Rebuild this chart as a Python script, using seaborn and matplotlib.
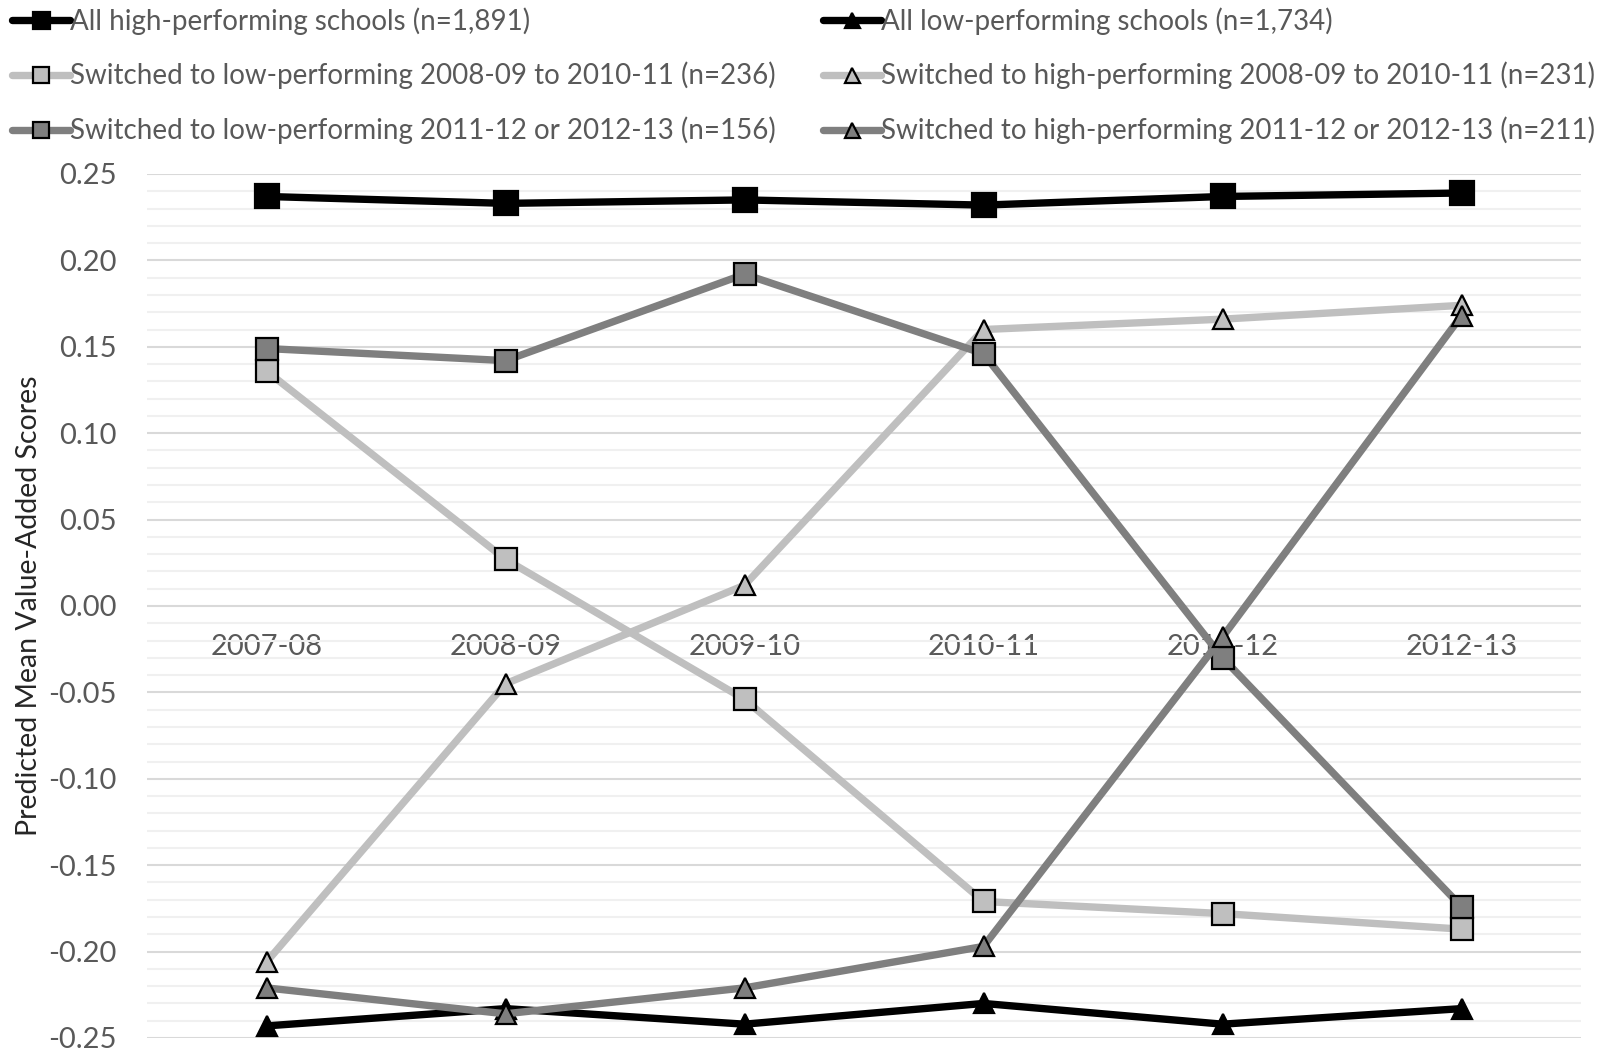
import matplotlib
matplotlib.use("Agg")
import matplotlib.pyplot as plt
from matplotlib.ticker import MultipleLocator, FixedLocator, FuncFormatter
import seaborn as sns
import pandas as pd

years = ["2007-08", "2008-09", "2009-10", "2010-11", "2011-12", "2012-13"]

high_all = [0.237, 0.233, 0.235, 0.232, 0.237, 0.239]
low_all = [-0.243, -0.233, -0.242, -0.230, -0.242, -0.233]
to_low_early = [0.136, 0.027, -0.054, -0.171, -0.178, -0.187]
to_high_early = [-0.206, -0.045, 0.012, 0.160, 0.166, 0.174]
to_low_late = [0.149, 0.142, 0.192, 0.146, -0.030, -0.174]
to_high_late = [-0.221, -0.236, -0.221, -0.197, -0.018, 0.168]

series_names = [
    "All high-performing schools (n=1,891)",
    "All low-performing schools (n=1,734)",
    "Switched to low-performing 2008-09 to 2010-11 (n=236)",
    "Switched to high-performing 2008-09 to 2010-11 (n=231)",
    "Switched to low-performing 2011-12 or 2012-13 (n=156)",
    "Switched to high-performing 2011-12 or 2012-13 (n=211)",
]
series_values = [high_all, low_all, to_low_early, to_high_early, to_low_late, to_high_late]

styles = {
    series_names[0]: dict(color="#000000", marker="s", ms=17),
    series_names[1]: dict(color="#000000", marker="^", ms=15),
    series_names[2]: dict(color="#bfbfbf", marker="s", ms=16),
    series_names[3]: dict(color="#bfbfbf", marker="^", ms=15),
    series_names[4]: dict(color="#7f7f7f", marker="s", ms=16),
    series_names[5]: dict(color="#7f7f7f", marker="^", ms=15),
}

rows = []
for name, vals in zip(series_names, series_values):
    for i, v in enumerate(vals):
        rows.append({"series": name, "pos": i, "year": years[i], "value": v})
df = pd.DataFrame(rows)

sns.set_theme(style="white")
plt.rcParams["font.family"] = ["Lato", "DejaVu Sans"]

fig = plt.figure(figsize=(16.04, 10.51), dpi=100)
ax = fig.add_axes([147 / 1604, 13 / 1051, (1581 - 147) / 1604, (1038 - 174) / 1051])

handles = {}
for name in series_names:
    st = styles[name]
    sub = df[df["series"] == name]
    sns.lineplot(data=sub, x="pos", y="value", ax=ax, color=st["color"],
                 linewidth=5.3, sort=False, legend=False, zorder=3)
    line = ax.lines[-1]
    line.set_marker(st["marker"])
    line.set_markersize(st["ms"])
    line.set_markerfacecolor(st["color"])
    line.set_markeredgecolor("#000000")
    line.set_markeredgewidth(1.6)
    line.set_clip_on(False)
    line.set_solid_capstyle("round")
    handles[name] = line

ax.set_xlim(-0.5, 5.5)
ax.set_ylim(-0.25, 0.25)

# gridlines: major every 0.05, minor every 0.01
ax.yaxis.set_major_locator(MultipleLocator(0.05))
ax.yaxis.set_minor_locator(MultipleLocator(0.01))
ax.grid(True, axis="y", which="major", color="#d9d9d9", linewidth=1.5, zorder=0)
ax.grid(True, axis="y", which="minor", color="#f0f0f0", linewidth=1.5, zorder=0)
ax.grid(False, axis="x")
ax.set_axisbelow(True)

ax.yaxis.set_major_formatter(FuncFormatter(lambda v, p: f"{v:.2f}"))
ax.tick_params(axis="y", which="both", length=0, labelsize=21, labelcolor="#595959", pad=22)

# category labels sit just below the zero line
ax.spines["bottom"].set_position(("data", 0))
for s in ax.spines.values():
    s.set_visible(False)
ax.xaxis.set_major_locator(FixedLocator(range(len(years))))
ax.set_xticklabels(years)
ax.tick_params(axis="x", length=0, labelsize=21, labelcolor="#595959", pad=20)
ax.set_xlabel("")
ax.set_ylabel("Predicted Mean Value-Added Scores", fontsize=20.5, color="#262626")
ax.yaxis.set_label_coords(-0.0735, 0.5)

leg_kw = dict(frameon=False, fontsize=20, labelcolor="#595959", handlelength=2.1,
              handletextpad=0.0, labelspacing=0.98, markerscale=0.72,
              borderaxespad=0, borderpad=0, loc="upper left")
col1 = [series_names[0], series_names[2], series_names[4]]
col2 = [series_names[1], series_names[3], series_names[5]]
fig.legend([handles[n] for n in col1], col1, bbox_to_anchor=(12 / 1604, 1 - 7 / 1051), **leg_kw)
fig.legend([handles[n] for n in col2], col2, bbox_to_anchor=(823 / 1604, 1 - 7 / 1051), **leg_kw)

fig.savefig("out.png", dpi=100)
